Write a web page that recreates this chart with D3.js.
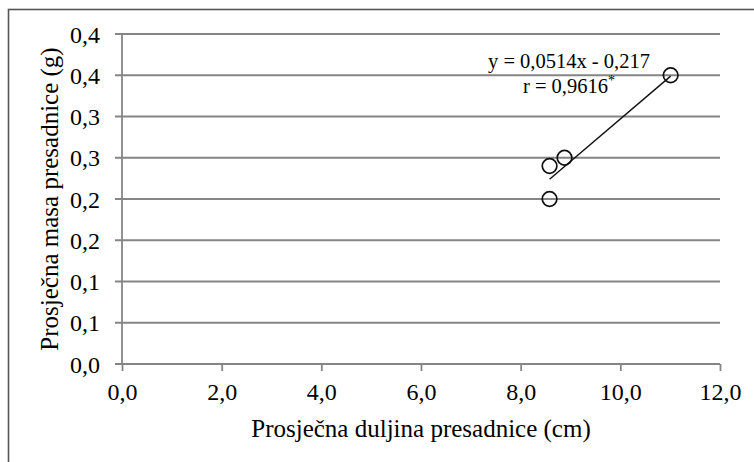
<!DOCTYPE html>
<html>
<head>
<meta charset="utf-8">
<script src="https://cdn.jsdelivr.net/npm/d3@7"></script>
<style>
	body { margin: 0; background: #fff; }
	svg text { font-family: "Liberation Serif", "Times New Roman", serif; fill: #000; }
	.domain { display: none; }
</style>
</head>
<body>
<script>
// data
const lengths = [8.58, 8.58, 8.88, 11.01];
const masses = [0.24, 0.20, 0.25, 0.35];

// trend line from the equation printed on the chart
const slope = 0.0514;
const intercept = -0.217;
const eqLines = ["y = 0,0514x - 0,217", "r = 0,9616"];

const xTicks = [0, 2, 4, 6, 8, 10, 12];
const xTickLabels = ["0,0", "2,0", "4,0", "6,0", "8,0", "10,0", "12,0"];
const yTicks = [0, 0.05, 0.1, 0.15, 0.2, 0.25, 0.3, 0.35, 0.4];
const yTickLabels = ["0,0", "0,1", "0,1", "0,2", "0,2", "0,3", "0,3", "0,4", "0,4"];

const xTitle = "Prosječna duljina presadnice (cm)";
const yTitle = "Prosječna masa presadnice (g)";

const W = 754, H = 462;
const plotL = 122, plotR = 720, plotT = 34, plotB = 364;
const gridColor = "#858585";

let svg = d3.select("body").append("svg")
	.attr("width", W)
	.attr("height", H);

// outer frame (only top and left edge show)
svg.append("rect")
	.attr("x", 8.5).attr("y", 9.5)
	.attr("width", 800).attr("height", 500)
	.attr("fill", "none")
	.attr("stroke", "#555")
	.attr("stroke-width", 1.6);

let x = d3.scaleLinear().domain([0, 12]).range([plotL, plotR]);
let y = d3.scaleLinear().domain([0, 0.4]).range([plotB, plotT]);

//gridlines
svg.append("g").selectAll("line")
	.data(yTicks)
	.enter().append("line")
	.attr("x1", plotL - 7)
	.attr("x2", plotR)
	.attr("y1", d => y(d))
	.attr("y2", d => y(d))
	.attr("stroke", gridColor)
	.attr("stroke-width", 1.8);

//y axis
let yAxis = svg.append("g")
	.attr("transform", `translate(${plotL},0)`)
	.call(d3.axisLeft(y).tickValues(yTicks).tickSize(0).tickPadding(22)
		.tickFormat((d, i) => yTickLabels[i]));
yAxis.selectAll("text")
	.style("font-size", "24px")
	.attr("dy", "0.34em");
svg.append("line")
	.attr("x1", plotL).attr("x2", plotL)
	.attr("y1", plotT).attr("y2", plotB)
	.attr("stroke", gridColor).attr("stroke-width", 1.8);

//x axis
let xAxis = svg.append("g")
	.attr("transform", `translate(0,${plotB})`)
	.call(d3.axisBottom(x).tickValues(xTicks).tickSize(7).tickPadding(12)
		.tickFormat((d, i) => xTickLabels[i]));
xAxis.selectAll("line")
	.attr("stroke", gridColor)
	.attr("stroke-width", 1.8);
xAxis.selectAll("text")
	.style("font-size", "24px");

//axis titles
svg.append("text")
	.attr("x", (plotL + plotR) / 2)
	.attr("y", 437)
	.attr("text-anchor", "middle")
	.style("font-size", "25px")
	.text(xTitle);

svg.append("text")
	.attr("transform", `translate(58,${(plotT + plotB) / 2}) rotate(-90)`)
	.attr("text-anchor", "middle")
	.style("font-size", "25px")
	.text(yTitle);

//trend line
let xr = d3.extent(lengths);
svg.append("line")
	.attr("x1", x(xr[0]))
	.attr("y1", y(slope * xr[0] + intercept))
	.attr("x2", x(xr[1]))
	.attr("y2", y(slope * xr[1] + intercept))
	.attr("stroke", "#111")
	.attr("stroke-width", 1.4);

//points
svg.append("g").selectAll("circle")
	.data(lengths.map((d, i) => [d, masses[i]]))
	.enter().append("circle")
	.attr("cx", d => x(d[0]))
	.attr("cy", d => y(d[1]))
	.attr("r", 7.3)
	.attr("fill", "none")
	.attr("stroke", "#111")
	.attr("stroke-width", 1.7);

//equation
let eq = svg.append("text")
	.attr("text-anchor", "middle")
	.style("font-size", "20.5px");
eq.append("tspan").attr("x", 569).attr("y", 68).text(eqLines[0]);
eq.append("tspan").attr("x", 569).attr("y", 93).text(eqLines[1]);
eq.append("tspan").attr("dy", -8).style("font-size", "14px").text("*");
</script>
</body>
</html>
